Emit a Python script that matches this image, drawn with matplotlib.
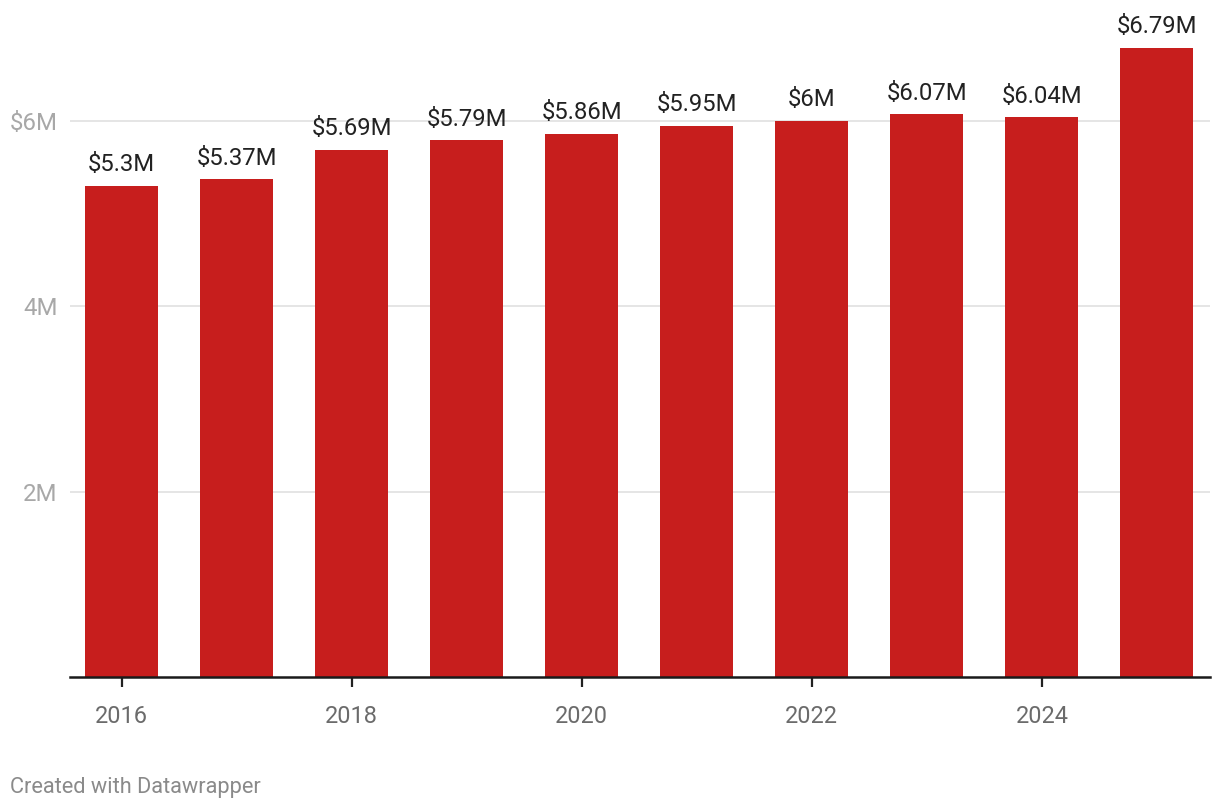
import matplotlib.pyplot as plt

years = [2016, 2017, 2018, 2019, 2020, 2021, 2022, 2023, 2024, 2025]
values = [5.30, 5.37, 5.69, 5.79, 5.86, 5.95, 6.00, 6.07, 6.04, 6.79]
value_labels = ["$5.3M", "$5.37M", "$5.69M", "$5.79M", "$5.86M", "$5.95M",
                "$6M", "$6.07M", "$6.04M", "$6.79M"]
y_ticks = [2, 4, 6]
y_tick_labels = ["2M", "4M", "$6M"]
x_ticks = [2016, 2018, 2020, 2022, 2024]

plt.rcParams['font.family'] = ['Roboto', 'DejaVu Sans']

fig = plt.figure(figsize=[12.2, 8.1], dpi=100)
ax = fig.add_axes([70 / 1220, 133 / 810, 1140 / 1220, (677 - 40) / 810])

ax.bar(years, values, width=0.635, color="#c71e1d", zorder=3)

for x, v, lab in zip(years, values, value_labels):
    ax.annotate(lab, (x, v), xytext=(0, 7), textcoords="offset points",
                ha="center", va="bottom", fontsize=17.2, color="#222222")

ax.set_xlim(2015.552, 2025.461)
ax.set_ylim(0, (677 - 40) / 92.67)

ax.set_yticks(y_ticks)
ax.set_yticklabels(y_tick_labels)
ax.yaxis.grid(True, color="#e3e3e3", linewidth=1.3, zorder=0)
ax.tick_params(axis="y", length=0, pad=9, labelsize=17.3, labelcolor="#a8a8a8")

ax.set_xticks(x_ticks)
ax.set_xticklabels([str(x) for x in x_ticks])
ax.tick_params(axis="x", length=7, width=1.6, color="#222222", pad=13,
               labelsize=16.9, labelcolor="#6b6b6b")

for s in ["top", "right", "left"]:
    ax.spines[s].set_visible(False)
ax.spines["bottom"].set_color("#1a1a1a")
ax.spines["bottom"].set_linewidth(1.8)
ax.spines["bottom"].set_zorder(4)

fig.text(10 / 1220, 1 - 787 / 810, "Created with Datawrapper", fontsize=15.7,
         color="#8a8a8a", ha="left", va="center")

fig.savefig("out.png", dpi=100)
